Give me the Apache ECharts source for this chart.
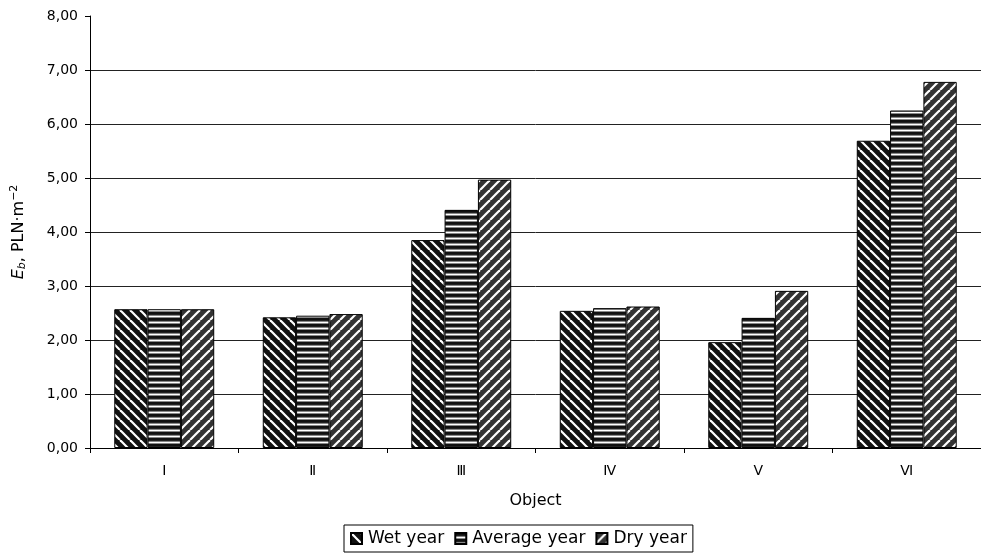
<!DOCTYPE html>
<html>
<head>
<meta charset="utf-8">
<script src="https://cdn.jsdelivr.net/npm/echarts@6/dist/echarts.min.js"></script>
<style>html,body{margin:0;padding:0;background:#fff}#c{width:981px;height:557px}</style>
</head>
<body>
<div id="c"></div>
<script>
const categories = ['Ⅰ', 'Ⅱ', 'Ⅲ', 'Ⅳ', 'Ⅴ', 'Ⅵ'];
const wetYear = [2.57, 2.42, 3.85, 2.54, 1.96, 5.69];
const averageYear = [2.57, 2.45, 4.41, 2.59, 2.41, 6.25];
const dryYear = [2.57, 2.48, 4.97, 2.62, 2.91, 6.78];
const seriesNames = ['Wet year', 'Average year', 'Dry year'];
const yTicks = [0, 1, 2, 3, 4, 5, 6, 7, 8];

function tile(type) {
  const c = document.createElement('canvas');
  const s = type === 'avg' ? 6 : 10;
  c.width = s; c.height = s;
  const g = c.getContext('2d');
  if (type === 'avg') {
    const rows = ['#111', '#111', '#222', '#888', '#fff', '#888'];
    rows.forEach((col, i) => { g.fillStyle = col; g.fillRect(0, i, s, 1); });
    return c;
  }
  g.fillStyle = type === 'wet' ? '#111' : '#333';
  g.fillRect(0, 0, s, s);
  g.strokeStyle = '#fff';
  g.lineWidth = 2.2;
  for (let k = -s; k <= s; k += s) {
    g.beginPath();
    if (type === 'wet') { g.moveTo(k, 0); g.lineTo(k + s, s); }
    else { g.moveTo(k, s); g.lineTo(k + s, 0); }
    g.stroke();
  }
  return c;
}

const fills = [tile('wet'), tile('avg'), tile('dry')];
const values = [wetYear, averageYear, dryYear];
const font = 'DejaVu Sans';

const chart = echarts.init(document.getElementById('c'), null, {renderer: 'canvas'});
chart.setOption({
  animation: false,
  backgroundColor: '#fff',
  textStyle: {fontFamily: font, color: '#000'},
  grid: {left: 90, right: 0, top: 16, bottom: 109, containLabel: false},
  legend: {
    data: seriesNames,
    left: 344, top: 525,
    orient: 'horizontal',
    icon: 'rect',
    itemWidth: 11, itemHeight: 11, itemGap: 10,
    padding: [5, 6, 5, 6],
    borderColor: '#000', borderWidth: 1,
    textStyle: {fontFamily: font, fontSize: 17, color: '#000', padding: [0, 0, 0, 1]}
  },
  xAxis: {
    type: 'category',
    data: categories,
    name: 'Object',
    nameLocation: 'middle',
    nameGap: 45,
    nameTextStyle: {fontFamily: font, fontSize: 16, color: '#000'},
    axisLine: {lineStyle: {color: '#000', width: 1}},
    axisTick: {show: true, length: 5, lineStyle: {color: '#000'}},
    axisLabel: {fontFamily: font, fontSize: 14, color: '#000', margin: 16}
  },
  yAxis: {
    type: 'value',
    min: yTicks[0], max: yTicks[yTicks.length - 1], interval: 1,
    name: '{i|E}{sub|b}{n|, PLN·m}{sup|−2}',
    nameLocation: 'middle',
    nameRotate: 90,
    nameGap: 62,
    nameTextStyle: {
      rich: {
        i: {fontFamily: font, fontSize: 16, fontStyle: 'italic', color: '#000'},
        sub: {fontFamily: font, fontSize: 11, fontStyle: 'italic', color: '#000', verticalAlign: 'bottom', padding: [6, 0, 0, 0]},
        n: {fontFamily: font, fontSize: 16, color: '#000'},
        sup: {fontFamily: font, fontSize: 11, color: '#000', verticalAlign: 'top', padding: [0, 0, 8, 0]}
      }
    },
    axisLine: {show: true, lineStyle: {color: '#000', width: 1}},
    axisTick: {show: true, length: 5, lineStyle: {color: '#000'}},
    axisLabel: {fontFamily: font, fontSize: 14, color: '#000', margin: 12,
      formatter: v => v.toFixed(2).replace('.', ',')},
    splitLine: {show: true, showMaxLine: false, lineStyle: {color: '#222', width: 1}}
  },
  series: seriesNames.map((name, i) => ({
    name,
    type: 'bar',
    data: values[i],
    barGap: '0%',
    barCategoryGap: '32.7%',
    itemStyle: {
      color: {image: fills[i], repeat: 'repeat'},
      borderColor: '#000',
      borderWidth: 1
    }
  }))
});
</script>
</body>
</html>
